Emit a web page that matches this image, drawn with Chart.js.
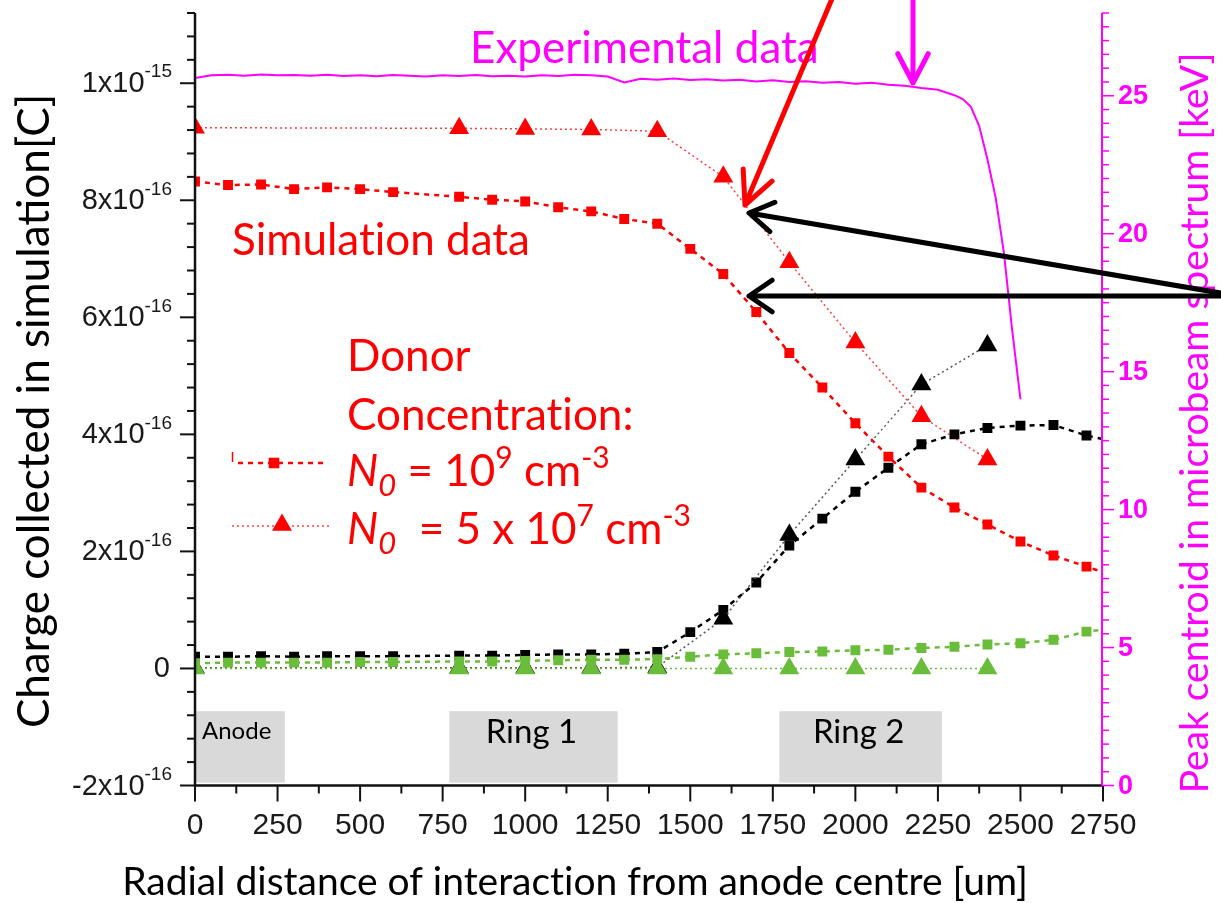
<!DOCTYPE html>
<html>
<head>
<meta charset="utf-8">
<script src="https://cdn.jsdelivr.net/npm/chart.js@4.4.1/dist/chart.umd.min.js"></script>
<style>
  html, body { margin: 0; padding: 0; background: #fff; }
  #wrap { width: 1221px; height: 903px; }
</style>
</head>
<body>
<div id="wrap"><canvas id="chart" width="1221" height="903"></canvas></div>
<script>
// ---------- data ----------
// radial position of the interaction (um)
const xSquares = [0, 100, 200, 300, 400, 500, 600, 800, 900, 1000, 1100, 1200, 1300, 1400,
  1500, 1600, 1700, 1800, 1900, 2000, 2100, 2200, 2300, 2400, 2500, 2600, 2700, 2800];
const xTriangles = [0, 800, 1000, 1200, 1400, 1600, 1800, 2000, 2200, 2400];

// collected charge, in units of 1e-16 C
const redSquares = [8.32, 8.26, 8.27, 8.19, 8.22, 8.19, 8.14, 8.06, 8.01, 7.98, 7.88, 7.81, 7.68, 7.60,
  7.17, 6.74, 6.09, 5.39, 4.80, 4.19, 3.62, 3.09, 2.75, 2.46, 2.17, 1.93, 1.74, 1.55];
const blackSquares = [0.20, 0.20, 0.21, 0.20, 0.21, 0.21, 0.21, 0.22, 0.22, 0.23, 0.24, 0.24, 0.25, 0.28,
  0.62, 1.00, 1.47, 2.10, 2.56, 3.02, 3.43, 3.83, 4.00, 4.11, 4.15, 4.16, 3.98, 3.86];
const greenSquares = [0.09, 0.10, 0.10, 0.10, 0.10, 0.11, 0.11, 0.12, 0.12, 0.13, 0.14, 0.15, 0.15, 0.16,
  0.20, 0.24, 0.26, 0.28, 0.29, 0.31, 0.32, 0.35, 0.37, 0.41, 0.43, 0.49, 0.63, 0.69];

const redTriangles = [9.24, 9.23, 9.22, 9.21, 9.18, 8.40, 6.94, 5.57, 4.31, 3.57];
const blackTriangles = [0.01, 0.01, 0.01, 0.01, 0.02, 0.85, 2.28, 3.57, 4.85, 5.52];
const greenTriangles = [0, 0, 0, 0, 0, 0, 0, 0, 0, 0];

// measured peak centroid (keV)
const expX = [0, 50, 100, 150, 200, 250, 300, 350, 400, 450, 500, 550, 600, 650, 700, 750, 800,
  850, 900, 950, 1000, 1050, 1100, 1150, 1200, 1250, 1300, 1350, 1400, 1450, 1500, 1550, 1600,
  1650, 1700, 1750, 1800, 1850, 1900, 1950, 2000, 2050, 2100, 2150, 2200, 2250, 2300,
  2325, 2350, 2375, 2400, 2425, 2450, 2475, 2500];
const expPeak = [25.64, 25.74, 25.76, 25.73, 25.77, 25.74, 25.75, 25.73, 25.76, 25.72, 25.74, 25.71,
  25.75, 25.73, 25.70, 25.74, 25.72, 25.75, 25.71, 25.73, 25.70, 25.74, 25.72, 25.76, 25.74, 25.70,
  25.48, 25.62, 25.58, 25.63, 25.57, 25.60, 25.55, 25.58, 25.52, 25.56, 25.50, 25.53, 25.47, 25.50,
  25.44, 25.47, 25.40, 25.36, 25.28, 25.22, 25.02,
  24.88, 24.60, 23.90, 22.70, 21.30, 19.30, 16.50, 14.00];

// axis ticks
const leftTicks = [-2, 0, 2, 4, 6, 8, 10];
const leftTickLabels = [["-2x10", "-16"], ["0", ""], ["2x10", "-16"], ["4x10", "-16"],
  ["6x10", "-16"], ["8x10", "-16"], ["1x10", "-15"]];
const bottomTicks = [0, 250, 500, 750, 1000, 1250, 1500, 1750, 2000, 2250, 2500, 2750];
const rightTicks = [0, 5, 10, 15, 20, 25];

// electrode regions (um)
const regionNames = ["Anode", "Ring 1", "Ring 2"];
const regionFrom = [0, 770, 1770];
const regionTo = [272, 1280, 2262];

// ---------- helpers ----------
const RED = "#ff0000";
const GREEN = "#6abd3a";
const MAGENTA = "#ff00ff";
const CAL = "Lato, 'Open Sans', sans-serif";
const ARIAL = "'Liberation Sans', Arial, sans-serif";
const ZWNJ = "\u200C"; // keeps Lato from joining "ti"

function pts(xs, ys) {
  return xs.map((x, i) => ({ x: x, y: ys[i] }));
}

function noLig(s) {
  return s.replace(/ti/g, "t" + ZWNJ + "i");
}

function arrow(ctx, x1, y1, x2, y2, color, width, headLen, headAng) {
  const a = Math.atan2(y1 - y2, x1 - x2);
  ctx.save();
  ctx.strokeStyle = color;
  ctx.lineWidth = width;
  ctx.lineCap = "round";
  ctx.lineJoin = "round";
  ctx.beginPath();
  ctx.moveTo(x1, y1);
  ctx.lineTo(x2, y2);
  ctx.moveTo(x2 + headLen * Math.cos(a + headAng), y2 + headLen * Math.sin(a + headAng));
  ctx.lineTo(x2, y2);
  ctx.lineTo(x2 + headLen * Math.cos(a - headAng), y2 + headLen * Math.sin(a - headAng));
  ctx.stroke();
  ctx.restore();
}

// text made of runs: {t, font, dy}
function runs(ctx, x, y, list, color) {
  ctx.save();
  ctx.fillStyle = color;
  ctx.textAlign = "left";
  ctx.textBaseline = "alphabetic";
  let cx = x;
  list.forEach((r) => {
    ctx.font = r.font;
    const t = noLig(r.t);
    ctx.fillText(t, cx, y + (r.dy || 0));
    cx += ctx.measureText(t).width;
  });
  ctx.restore();
}

// ---------- decorations ----------
const decor = {
  id: "decor",
  beforeDatasetsDraw(chart) {
    const ctx = chart.ctx;
    const xs = chart.scales.x;
    const ys = chart.scales.y;
    ctx.save();
    const top = ys.getPixelForValue(-0.73);
    const bot = ys.getPixelForValue(-1.95);
    regionNames.forEach((name, i) => {
      const l = xs.getPixelForValue(regionFrom[i]);
      const r = xs.getPixelForValue(regionTo[i]);
      ctx.fillStyle = "#d9d9d9";
      ctx.fillRect(l, top, r - l, bot - top);
      ctx.fillStyle = "#000";
      ctx.textBaseline = "alphabetic";
      if (i === 0) {
        ctx.font = "24px " + CAL;
        ctx.textAlign = "left";
        ctx.fillText(name, l + 7, top + 28);
      } else {
        ctx.font = "33px " + CAL;
        ctx.textAlign = "center";
        ctx.fillText(name, (l + r) / 2 - 2, top + 32);
      }
    });
    ctx.restore();
  },
  afterDraw(chart) {
    const ctx = chart.ctx;
    const area = chart.chartArea;
    const xs = chart.scales.x;
    const ys = chart.scales.y;
    const y2 = chart.scales.y2;
    ctx.save();

    // axis lines
    ctx.lineCap = "butt";
    ctx.strokeStyle = "#111";
    ctx.lineWidth = 2.5;
    ctx.beginPath();
    ctx.moveTo(area.left, area.top);
    ctx.lineTo(area.left, area.bottom);
    ctx.lineTo(area.right, area.bottom);
    ctx.stroke();
    ctx.strokeStyle = MAGENTA;
    ctx.lineWidth = 2;
    ctx.beginPath();
    ctx.moveTo(area.right - 1, area.top);
    ctx.lineTo(area.right - 1, area.bottom);
    ctx.stroke();

    // left ticks: minor every 0.4, major every 2
    ctx.strokeStyle = "#111";
    ctx.lineWidth = 2;
    for (let i = 0; i <= 33; i++) {
      const v = -2 + 0.4 * i;
      const py = ys.getPixelForValue(v);
      const major = i % 5 === 0;
      ctx.beginPath();
      ctx.moveTo(area.left, py);
      ctx.lineTo(area.left - (major ? 15 : 8), py);
      ctx.stroke();
    }
    // bottom ticks: minor every 125, major every 250
    for (let v = 0; v <= 2750; v += 125) {
      const px = xs.getPixelForValue(v);
      const major = v % 250 === 0;
      ctx.beginPath();
      ctx.moveTo(px, area.bottom);
      ctx.lineTo(px, area.bottom + (major ? 16 : 8));
      ctx.stroke();
    }
    // right ticks: minor every 0.5, major every 5
    ctx.strokeStyle = MAGENTA;
    ctx.lineWidth = 1.5;
    for (let i = 0; i <= 56; i++) {
      const py = y2.getPixelForValue(i * 0.5);
      const major = i % 10 === 0;
      ctx.beginPath();
      ctx.moveTo(area.right - 1, py);
      ctx.lineTo(area.right - 1 + (major ? 12 : 7), py);
      ctx.stroke();
    }

    // tick labels
    ctx.fillStyle = "#1a1a1a";
    ctx.textBaseline = "middle";
    leftTicks.forEach((v, i) => {
      const py = ys.getPixelForValue(v);
      const [base, sup] = leftTickLabels[i];
      ctx.font = "19px " + ARIAL;
      const supW = ctx.measureText(sup).width;
      ctx.font = "29px " + ARIAL;
      const baseW = ctx.measureText(base).width;
      const right = sup ? 172 : 170;
      ctx.textAlign = "left";
      ctx.fillText(base, right - supW - baseW, py + 1);
      if (sup) {
        ctx.font = "19px " + ARIAL;
        ctx.fillText(sup, right - supW, py - 11);
      }
    });
    ctx.font = "30px " + ARIAL;
    ctx.textAlign = "center";
    bottomTicks.forEach((v) => {
      ctx.fillText(String(v), xs.getPixelForValue(v), 826);
    });
    ctx.fillStyle = MAGENTA;
    ctx.font = "bold 27px " + ARIAL;
    ctx.textAlign = "left";
    rightTicks.forEach((v) => {
      ctx.fillText(String(v), 1118, y2.getPixelForValue(v) + 1);
    });

    // axis titles
    ctx.textBaseline = "alphabetic";
    ctx.textAlign = "center";
    ctx.fillStyle = "#000";
    ctx.font = "39px " + CAL;
    ctx.fillText(noLig("Radial distance of interaction from anode centre [um]"), 575, 895);

    ctx.save();
    ctx.translate(49, 411);
    ctx.rotate(-Math.PI / 2);
    ctx.font = "44px " + CAL;
    ctx.fillText("Charge collected in simulation[C]", 0, 0);
    ctx.restore();

    ctx.save();
    ctx.translate(1208, 423);
    ctx.rotate(-Math.PI / 2);
    ctx.fillStyle = MAGENTA;
    ctx.font = "39px " + CAL;
    ctx.fillText("Peak centroid in microbeam spectrum [keV]", 0, 0);
    ctx.restore();

    // annotation text
    const big = "44px " + CAL;
    const bigI = "italic 44px " + CAL;
    const small = "30px " + CAL;
    const smallI = "italic 31px " + CAL;
    runs(ctx, 470, 63, [{ t: "Experimental data", font: big }], MAGENTA);
    runs(ctx, 232, 255, [{ t: "Simulation data", font: big }], RED);
    runs(ctx, 347, 371, [{ t: "Donor", font: big }], RED);
    runs(ctx, 347, 430, [{ t: "Concentration:", font: big }], RED);
    runs(ctx, 347, 486, [
      { t: "N", font: bigI }, { t: "0", font: smallI, dy: 10 },
      { t: " = 10", font: big }, { t: "9", font: small, dy: -18 },
      { t: " cm", font: big }, { t: "-3", font: small, dy: -18 }
    ], RED);
    runs(ctx, 347, 544, [
      { t: "N", font: bigI }, { t: "0", font: smallI, dy: 10 },
      { t: "  = 5 x 10", font: big }, { t: "7", font: small, dy: -18 },
      { t: " cm", font: big }, { t: "-3", font: small, dy: -18 }
    ], RED);

    // legend samples
    ctx.strokeStyle = RED;
    ctx.fillStyle = RED;
    ctx.lineWidth = 2.5;
    ctx.setLineDash([5, 5]);
    ctx.beginPath();
    ctx.moveTo(238, 463);
    ctx.lineTo(324, 463);
    ctx.stroke();
    ctx.setLineDash([]);
    ctx.lineWidth = 1.5;
    ctx.beginPath();
    ctx.moveTo(232.5, 452);
    ctx.lineTo(232.5, 462);
    ctx.stroke();
    Chart.helpers.drawPoint(ctx, { pointStyle: "rect", radius: 7.5, borderWidth: 0 }, 274, 463);
    ctx.strokeStyle = "rgba(255,0,0,0.75)";
    ctx.lineWidth = 1.5;
    ctx.setLineDash([2, 3]);
    ctx.beginPath();
    ctx.moveTo(232, 526);
    ctx.lineTo(330, 526);
    ctx.stroke();
    ctx.setLineDash([]);
    Chart.helpers.drawPoint(ctx, { pointStyle: "triangle", radius: 11.5, borderWidth: 0 }, 282, 525);

    // arrows
    arrow(ctx, 834, -6, 745, 205, RED, 5, 36, 0.45);
    arrow(ctx, 913, -6, 913, 83, MAGENTA, 5, 33, 0.48);
    arrow(ctx, 1226, 294, 749, 213, "#000", 5, 28, 0.56);
    arrow(ctx, 1226, 296, 749, 296, "#000", 5, 28, 0.6);

    ctx.restore();
  }
};

// ---------- chart ----------
function squareSet(data, color) {
  return {
    data: pts(xSquares, data),
    yAxisID: "y",
    borderColor: color,
    backgroundColor: color,
    borderWidth: 2.5,
    borderDash: [5, 5],
    pointStyle: "rect",
    pointRadius: 7,
    pointBorderWidth: 0,
    pointBackgroundColor: color,
    tension: 0
  };
}
function triangleSet(data, color, lineColor) {
  return {
    data: pts(xTriangles, data),
    yAxisID: "y",
    borderColor: lineColor,
    backgroundColor: color,
    borderWidth: 1.5,
    borderDash: [2, 3],
    pointStyle: "triangle",
    pointRadius: 11.5,
    pointBorderWidth: 0,
    pointBackgroundColor: color,
    tension: 0
  };
}

new Chart(document.getElementById("chart"), {
  type: "line",
  data: {
    datasets: [
      triangleSet(greenTriangles, GREEN, GREEN),
      squareSet(greenSquares, GREEN),
      triangleSet(blackTriangles, "#000", "#555"),
      squareSet(blackSquares, "#000"),
      triangleSet(redTriangles, RED, "rgba(255,0,0,0.75)"),
      squareSet(redSquares, RED),
      {
        data: pts(expX, expPeak),
        yAxisID: "y2",
        borderColor: MAGENTA,
        borderWidth: 2,
        pointRadius: 0,
        tension: 0
      }
    ]
  },
  options: {
    responsive: false,
    animation: false,
    events: [],
    layout: { padding: { left: 195, right: 118, top: 13, bottom: 117.5 } },
    plugins: { legend: { display: false }, tooltip: { enabled: false } },
    scales: {
      x: { type: "linear", min: 0, max: 2750, display: false },
      y: { type: "linear", min: -2, max: 11.2, display: false },
      y2: { type: "linear", min: 0, max: 28, display: false, position: "right" }
    }
  },
  plugins: [decor]
});
</script>
</body>
</html>
